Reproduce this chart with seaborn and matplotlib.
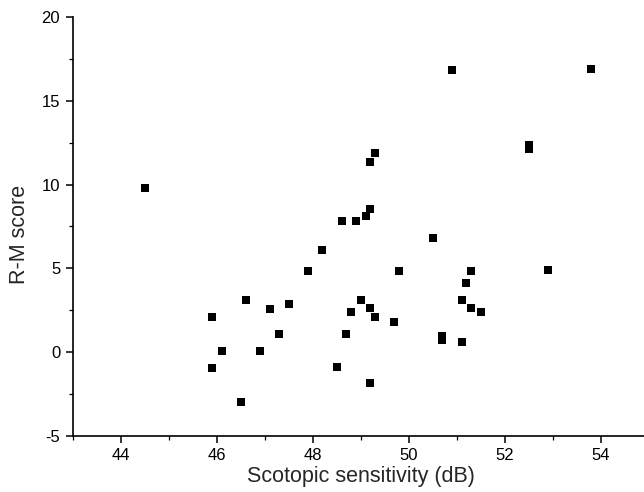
import matplotlib
matplotlib.use("Agg")
import matplotlib.pyplot as plt
import seaborn as sns
import pandas as pd
from matplotlib.ticker import MultipleLocator

# Data
scotopic_db = [44.5, 50.9, 53.8, 52.5, 52.5, 49.3, 49.2, 49.2, 49.1, 48.6,
               48.9, 50.5, 48.2, 47.9, 49.8, 51.3, 52.9, 51.2, 46.6, 49.0,
               51.1, 47.5, 47.1, 49.2, 51.3, 48.8, 51.5, 45.9, 49.3, 49.7,
               47.3, 48.7, 50.7, 50.7, 51.1, 46.1, 46.9, 45.9, 48.5, 49.2,
               46.5]
rm_score = [9.8, 16.85, 16.9, 12.35, 12.1, 11.9, 11.35, 8.55, 8.1, 7.85,
            7.85, 6.8, 6.1, 4.85, 4.85, 4.85, 4.9, 4.1, 3.1, 3.1,
            3.1, 2.85, 2.6, 2.65, 2.65, 2.4, 2.4, 2.1, 2.1, 1.8,
            1.1, 1.1, 0.95, 0.75, 0.6, 0.05, 0.05, -0.95, -0.9, -1.85,
            -2.95]
x_ticks = [44, 46, 48, 50, 52, 54]
y_ticks = [-5, 0, 5, 10, 15, 20]

df = pd.DataFrame({"x": scotopic_db, "y": rm_score})

sns.set_style("ticks")
plt.rcParams["font.family"] = ["Liberation Sans", "DejaVu Sans"]
plt.rcParams["axes.unicode_minus"] = False

fig = plt.figure(figsize=(6.44, 4.92), dpi=100)
ax = fig.add_axes([72.7 / 644, 56 / 492, 576 / 644, 419 / 492])

sns.scatterplot(data=df, x="x", y="y", marker="s", color="black",
                s=34, linewidth=0, ax=ax, legend=False)

ax.set_xlim(43, 55)
ax.set_ylim(-5, 20)
ax.set_xticks(x_ticks)
ax.set_yticks(y_ticks)
ax.xaxis.set_minor_locator(MultipleLocator(1))
ax.yaxis.set_minor_locator(MultipleLocator(2.5))

for side in ["top", "right"]:
    ax.spines[side].set_visible(False)
for side in ["left", "bottom"]:
    ax.spines[side].set_linewidth(1.2)
    ax.spines[side].set_color("black")

ax.tick_params(axis="both", which="major", direction="out", length=5,
               width=1.1, colors="black", labelsize=12, pad=4)
ax.tick_params(axis="both", which="minor", direction="out", length=3,
               width=0.9, colors="black")

ax.set_xlabel("Scotopic sensitivity (dB)", fontsize=15.5, labelpad=2)
ax.set_ylabel("R-M score", fontsize=15.5)
ax.yaxis.set_label_coords(-0.075, 0.48)

fig.savefig("out.png", dpi=100)
